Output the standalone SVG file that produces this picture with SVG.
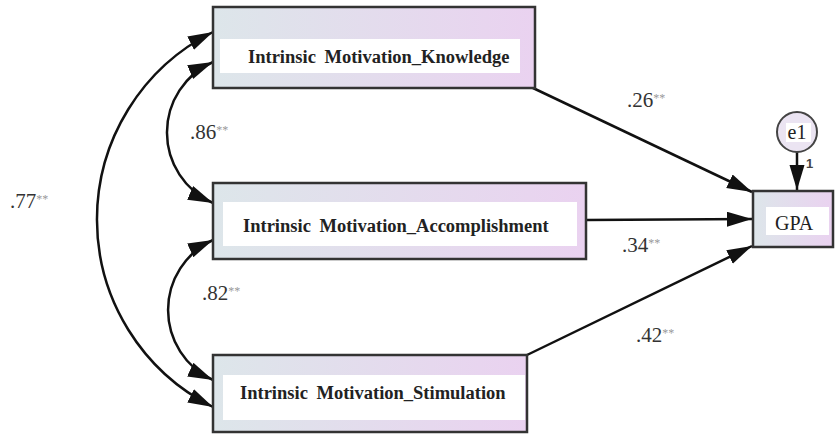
<svg xmlns="http://www.w3.org/2000/svg" width="835" height="434" viewBox="0 0 835 434">
<defs>
<linearGradient id="boxg" x1="0" y1="0" x2="1" y2="0">
<stop offset="0" stop-color="#dde6ea"/>
<stop offset="1" stop-color="#ead2f0"/>
</linearGradient>
<marker id="ah" markerUnits="userSpaceOnUse" markerWidth="26" markerHeight="16" refX="25" refY="7.5" orient="auto-start-reverse" viewBox="0 0 26 16">
<path d="M0,0 L25,7.5 L0,15 z" fill="#111"/>
</marker>
<style>
.box{fill:url(#boxg);stroke:#333;stroke-width:2.5}
.lbl{fill:#fff}
.nt{font-family:"Liberation Serif","Times New Roman",serif;font-weight:bold;font-size:18.5px;fill:#222;word-spacing:4px}
.rt{font-family:"Liberation Serif","Times New Roman",serif;font-size:20px;fill:#222}
.coef{font-family:"Liberation Serif","Times New Roman",serif;font-size:21px;fill:#333}
.st{font-size:12px;fill:#999}
.edge{fill:none;stroke:#111;stroke-width:2.5}
</style>
</defs>
<g id="connectors">
<path class="edge" d="M533,88 L752,192" marker-end="url(#ah)"/>
<path class="edge" d="M586,220 L752,219" marker-end="url(#ah)"/>
<path class="edge" d="M527,355 L752,246" marker-end="url(#ah)"/>
<path class="edge" d="M797,152 L797,190" marker-end="url(#ah)"/>
<path class="edge" d="M213,62 A77,77 0 0 0 213,203" marker-start="url(#ah)" marker-end="url(#ah)"/>
<path class="edge" d="M213,240 A77,77 0 0 0 213,380" marker-start="url(#ah)" marker-end="url(#ah)"/>
<path class="edge" d="M213,32 A209.5,209.5 0 0 0 213,407" marker-start="url(#ah)" marker-end="url(#ah)"/>
</g>
<g id="labels">
<text class="coef" x="627" y="107">.26<tspan class="st" dy="-5">**</tspan></text>
<text class="coef" x="622" y="252">.34<tspan class="st" dy="-5">**</tspan></text>
<text class="coef" x="636" y="342">.42<tspan class="st" dy="-5">**</tspan></text>
<text class="coef" x="10" y="208">.77<tspan class="st" dy="-5">**</tspan></text>
<text class="coef" x="190" y="139">.86<tspan class="st" dy="-5">**</tspan></text>
<text class="coef" x="202" y="300">.82<tspan class="st" dy="-5">**</tspan></text>
<text x="806" y="168" font-family="Liberation Sans, Arial, sans-serif" font-size="13" font-weight="bold" fill="#444">1</text>
</g>
<g id="knowledge">
<rect class="box" x="213" y="7" width="322" height="81"/>
<rect class="lbl" x="220" y="39" width="300" height="34"/>
<text class="nt" x="248" y="63">Intrinsic Motivation_Knowledge</text>
</g>
<g id="accomplishment">
<rect class="box" x="213" y="183" width="373" height="76"/>
<rect class="lbl" x="223" y="202" width="354" height="44"/>
<text class="nt" x="243" y="232">Intrinsic Motivation_Accomplishment</text>
</g>
<g id="stimulation">
<rect class="box" x="213" y="355" width="314" height="77"/>
<rect class="lbl" x="223" y="375" width="302" height="45"/>
<text class="nt" x="240" y="399">Intrinsic Motivation_Stimulation</text>
</g>
<g id="gpa">
<rect class="box" x="753" y="191" width="80" height="56"/>
<rect class="lbl" x="766" y="207" width="63" height="28"/>
<text class="rt" x="775" y="230">GPA</text>
</g>
<g id="e1">
<circle cx="797" cy="132" r="20" fill="#ebe4f2" stroke="#444" stroke-width="2"/>
<rect class="lbl" x="786" y="123" width="25" height="19"/>
<text class="rt" x="797" y="139" text-anchor="middle" font-size="18">e1</text>
</g>
</svg>
